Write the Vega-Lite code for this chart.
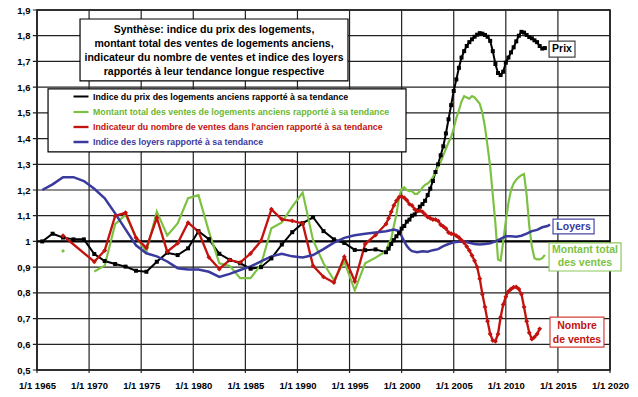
{
  "$schema": "https://vega.github.io/schema/vega-lite/v6.json",
  "width": 573,
  "height": 360,
  "autosize": {"type": "none"},
  "padding": {"left": 37, "top": 10, "right": 28, "bottom": 27},
  "background": "white",
  "config": {
    "font": "Liberation Sans",
    "view": {"stroke": "black", "strokeWidth": 1.5}
  },
  "datasets": {
    "series": [
      {"series": "Prix", "year": 1965.5, "v": 1.0},
      {"series": "Prix", "year": 1966.5, "v": 1.03},
      {"series": "Prix", "year": 1967.5, "v": 1.015},
      {"series": "Prix", "year": 1968.5, "v": 1.008},
      {"series": "Prix", "year": 1969.5, "v": 1.008},
      {"series": "Prix", "year": 1970.5, "v": 0.951},
      {"series": "Prix", "year": 1971.5, "v": 0.924},
      {"series": "Prix", "year": 1972.5, "v": 0.912},
      {"series": "Prix", "year": 1973.5, "v": 0.902},
      {"series": "Prix", "year": 1974.5, "v": 0.886},
      {"series": "Prix", "year": 1975.5, "v": 0.882},
      {"series": "Prix", "year": 1976.5, "v": 0.921},
      {"series": "Prix", "year": 1977.5, "v": 0.956},
      {"series": "Prix", "year": 1978.5, "v": 0.947},
      {"series": "Prix", "year": 1979.5, "v": 0.973},
      {"series": "Prix", "year": 1980.5, "v": 1.04},
      {"series": "Prix", "year": 1981.5, "v": 1.009},
      {"series": "Prix", "year": 1982.5, "v": 0.952},
      {"series": "Prix", "year": 1983.5, "v": 0.928},
      {"series": "Prix", "year": 1984.5, "v": 0.915},
      {"series": "Prix", "year": 1985.5, "v": 0.894},
      {"series": "Prix", "year": 1986.5, "v": 0.9},
      {"series": "Prix", "year": 1987.5, "v": 0.934},
      {"series": "Prix", "year": 1988.5, "v": 0.988},
      {"series": "Prix", "year": 1989.5, "v": 1.036},
      {"series": "Prix", "year": 1990.5, "v": 1.071},
      {"series": "Prix", "year": 1991.5, "v": 1.094},
      {"series": "Prix", "year": 1992.5, "v": 1.04},
      {"series": "Prix", "year": 1993.5, "v": 1.008},
      {"series": "Prix", "year": 1994.5, "v": 0.994},
      {"series": "Prix", "year": 1995.5, "v": 0.967},
      {"series": "Prix", "year": 1996.5, "v": 0.966},
      {"series": "Prix", "year": 1997.5, "v": 0.969},
      {"series": "Prix", "year": 1998.5, "v": 0.958},
      {"series": "Prix", "year": 1998.75, "v": 0.972},
      {"series": "Prix", "year": 1999.0, "v": 0.99},
      {"series": "Prix", "year": 1999.25, "v": 1.005},
      {"series": "Prix", "year": 1999.5, "v": 1.02},
      {"series": "Prix", "year": 1999.75, "v": 1.032},
      {"series": "Prix", "year": 2000.0, "v": 1.05},
      {"series": "Prix", "year": 2000.25, "v": 1.06},
      {"series": "Prix", "year": 2000.5, "v": 1.077},
      {"series": "Prix", "year": 2000.75, "v": 1.085},
      {"series": "Prix", "year": 2001.0, "v": 1.1},
      {"series": "Prix", "year": 2001.25, "v": 1.105},
      {"series": "Prix", "year": 2001.5, "v": 1.12},
      {"series": "Prix", "year": 2001.75, "v": 1.135},
      {"series": "Prix", "year": 2002.0, "v": 1.145},
      {"series": "Prix", "year": 2002.25, "v": 1.158},
      {"series": "Prix", "year": 2002.5, "v": 1.18},
      {"series": "Prix", "year": 2002.75, "v": 1.205},
      {"series": "Prix", "year": 2003.0, "v": 1.235},
      {"series": "Prix", "year": 2003.25, "v": 1.27},
      {"series": "Prix", "year": 2003.5, "v": 1.3},
      {"series": "Prix", "year": 2003.75, "v": 1.335},
      {"series": "Prix", "year": 2004.0, "v": 1.37},
      {"series": "Prix", "year": 2004.25, "v": 1.42},
      {"series": "Prix", "year": 2004.5, "v": 1.475},
      {"series": "Prix", "year": 2004.75, "v": 1.53},
      {"series": "Prix", "year": 2005.0, "v": 1.585},
      {"series": "Prix", "year": 2005.25, "v": 1.63},
      {"series": "Prix", "year": 2005.5, "v": 1.675},
      {"series": "Prix", "year": 2005.75, "v": 1.715},
      {"series": "Prix", "year": 2006.0, "v": 1.74},
      {"series": "Prix", "year": 2006.25, "v": 1.76},
      {"series": "Prix", "year": 2006.5, "v": 1.775},
      {"series": "Prix", "year": 2006.75, "v": 1.786},
      {"series": "Prix", "year": 2007.0, "v": 1.796},
      {"series": "Prix", "year": 2007.25, "v": 1.804},
      {"series": "Prix", "year": 2007.5, "v": 1.81},
      {"series": "Prix", "year": 2007.75, "v": 1.808},
      {"series": "Prix", "year": 2008.0, "v": 1.803},
      {"series": "Prix", "year": 2008.25, "v": 1.796},
      {"series": "Prix", "year": 2008.5, "v": 1.78},
      {"series": "Prix", "year": 2008.75, "v": 1.74},
      {"series": "Prix", "year": 2009.0, "v": 1.69},
      {"series": "Prix", "year": 2009.25, "v": 1.655},
      {"series": "Prix", "year": 2009.5, "v": 1.647},
      {"series": "Prix", "year": 2009.75, "v": 1.66},
      {"series": "Prix", "year": 2010.0, "v": 1.695},
      {"series": "Prix", "year": 2010.25, "v": 1.715},
      {"series": "Prix", "year": 2010.5, "v": 1.735},
      {"series": "Prix", "year": 2010.75, "v": 1.755},
      {"series": "Prix", "year": 2011.0, "v": 1.778},
      {"series": "Prix", "year": 2011.25, "v": 1.8},
      {"series": "Prix", "year": 2011.5, "v": 1.815},
      {"series": "Prix", "year": 2011.75, "v": 1.812},
      {"series": "Prix", "year": 2012.0, "v": 1.803},
      {"series": "Prix", "year": 2012.25, "v": 1.795},
      {"series": "Prix", "year": 2012.5, "v": 1.79},
      {"series": "Prix", "year": 2012.75, "v": 1.782},
      {"series": "Prix", "year": 2013.0, "v": 1.775},
      {"series": "Prix", "year": 2013.25, "v": 1.76},
      {"series": "Prix", "year": 2013.5, "v": 1.75},
      {"series": "Prix", "year": 2013.75, "v": 1.752},

      {"series": "Montant", "year": 1967.5, "v": 0.963},
      {"series": "Montant", "year": 1970.5, "v": 0.883},
      {"series": "Montant", "year": 1971.5, "v": 0.906},
      {"series": "Montant", "year": 1972.5, "v": 1.067},
      {"series": "Montant", "year": 1973.5, "v": 1.103},
      {"series": "Montant", "year": 1974.5, "v": 1.018},
      {"series": "Montant", "year": 1975.5, "v": 0.96},
      {"series": "Montant", "year": 1976.5, "v": 1.116},
      {"series": "Montant", "year": 1977.5, "v": 1.023},
      {"series": "Montant", "year": 1978.5, "v": 1.07},
      {"series": "Montant", "year": 1979.5, "v": 1.168},
      {"series": "Montant", "year": 1980.5, "v": 1.18},
      {"series": "Montant", "year": 1981.5, "v": 1.038},
      {"series": "Montant", "year": 1982.5, "v": 0.915},
      {"series": "Montant", "year": 1983.5, "v": 0.905},
      {"series": "Montant", "year": 1984.5, "v": 0.857},
      {"series": "Montant", "year": 1985.5, "v": 0.857},
      {"series": "Montant", "year": 1986.5, "v": 0.91},
      {"series": "Montant", "year": 1987.5, "v": 1.051},
      {"series": "Montant", "year": 1988.5, "v": 1.074},
      {"series": "Montant", "year": 1989.5, "v": 1.135},
      {"series": "Montant", "year": 1990.5, "v": 1.19},
      {"series": "Montant", "year": 1991.5, "v": 1.005},
      {"series": "Montant", "year": 1992.5, "v": 0.915},
      {"series": "Montant", "year": 1993.5, "v": 0.85},
      {"series": "Montant", "year": 1994.5, "v": 0.921},
      {"series": "Montant", "year": 1995.5, "v": 0.81},
      {"series": "Montant", "year": 1996.5, "v": 0.915},
      {"series": "Montant", "year": 1997.5, "v": 0.937},
      {"series": "Montant", "year": 1998.5, "v": 0.962},
      {"series": "Montant", "year": 1998.75, "v": 0.99},
      {"series": "Montant", "year": 1999.0, "v": 1.01},
      {"series": "Montant", "year": 1999.25, "v": 1.06},
      {"series": "Montant", "year": 1999.5, "v": 1.105},
      {"series": "Montant", "year": 1999.75, "v": 1.17},
      {"series": "Montant", "year": 2000.0, "v": 1.205},
      {"series": "Montant", "year": 2000.25, "v": 1.21},
      {"series": "Montant", "year": 2000.5, "v": 1.2},
      {"series": "Montant", "year": 2000.75, "v": 1.195},
      {"series": "Montant", "year": 2001.0, "v": 1.195},
      {"series": "Montant", "year": 2001.25, "v": 1.185},
      {"series": "Montant", "year": 2001.5, "v": 1.185},
      {"series": "Montant", "year": 2001.75, "v": 1.195},
      {"series": "Montant", "year": 2002.0, "v": 1.21},
      {"series": "Montant", "year": 2002.25, "v": 1.22},
      {"series": "Montant", "year": 2002.5, "v": 1.225},
      {"series": "Montant", "year": 2002.75, "v": 1.235},
      {"series": "Montant", "year": 2003.0, "v": 1.25},
      {"series": "Montant", "year": 2003.25, "v": 1.27},
      {"series": "Montant", "year": 2003.5, "v": 1.29},
      {"series": "Montant", "year": 2003.75, "v": 1.31},
      {"series": "Montant", "year": 2004.0, "v": 1.335},
      {"series": "Montant", "year": 2004.25, "v": 1.36},
      {"series": "Montant", "year": 2004.5, "v": 1.385},
      {"series": "Montant", "year": 2004.75, "v": 1.405},
      {"series": "Montant", "year": 2005.0, "v": 1.44},
      {"series": "Montant", "year": 2005.25, "v": 1.48},
      {"series": "Montant", "year": 2005.5, "v": 1.51},
      {"series": "Montant", "year": 2005.75, "v": 1.545},
      {"series": "Montant", "year": 2006.0, "v": 1.565},
      {"series": "Montant", "year": 2006.25, "v": 1.56},
      {"series": "Montant", "year": 2006.5, "v": 1.555},
      {"series": "Montant", "year": 2006.75, "v": 1.565},
      {"series": "Montant", "year": 2007.0, "v": 1.56},
      {"series": "Montant", "year": 2007.25, "v": 1.548},
      {"series": "Montant", "year": 2007.5, "v": 1.535},
      {"series": "Montant", "year": 2007.75, "v": 1.5},
      {"series": "Montant", "year": 2008.0, "v": 1.445},
      {"series": "Montant", "year": 2008.25, "v": 1.37},
      {"series": "Montant", "year": 2008.5, "v": 1.29},
      {"series": "Montant", "year": 2008.75, "v": 1.18},
      {"series": "Montant", "year": 2009.0, "v": 1.07},
      {"series": "Montant", "year": 2009.25, "v": 0.93},
      {"series": "Montant", "year": 2009.5, "v": 0.925},
      {"series": "Montant", "year": 2009.75, "v": 1.0},
      {"series": "Montant", "year": 2010.0, "v": 1.08},
      {"series": "Montant", "year": 2010.25, "v": 1.15},
      {"series": "Montant", "year": 2010.5, "v": 1.2},
      {"series": "Montant", "year": 2010.75, "v": 1.225},
      {"series": "Montant", "year": 2011.0, "v": 1.24},
      {"series": "Montant", "year": 2011.25, "v": 1.25},
      {"series": "Montant", "year": 2011.5, "v": 1.258},
      {"series": "Montant", "year": 2011.75, "v": 1.262},
      {"series": "Montant", "year": 2012.0, "v": 1.18},
      {"series": "Montant", "year": 2012.25, "v": 1.06},
      {"series": "Montant", "year": 2012.5, "v": 0.98},
      {"series": "Montant", "year": 2012.75, "v": 0.935},
      {"series": "Montant", "year": 2013.0, "v": 0.93},
      {"series": "Montant", "year": 2013.25, "v": 0.93},
      {"series": "Montant", "year": 2013.5, "v": 0.935},
      {"series": "Montant", "year": 2013.75, "v": 0.948},

      {"series": "Nombre", "year": 1967.5, "v": 1.022},
      {"series": "Nombre", "year": 1970.5, "v": 0.921},
      {"series": "Nombre", "year": 1971.5, "v": 0.965},
      {"series": "Nombre", "year": 1972.5, "v": 1.099},
      {"series": "Nombre", "year": 1973.5, "v": 1.112},
      {"series": "Nombre", "year": 1974.5, "v": 1.014},
      {"series": "Nombre", "year": 1975.5, "v": 0.975},
      {"series": "Nombre", "year": 1976.5, "v": 1.092},
      {"series": "Nombre", "year": 1977.5, "v": 0.96},
      {"series": "Nombre", "year": 1978.5, "v": 0.993},
      {"series": "Nombre", "year": 1979.5, "v": 1.073},
      {"series": "Nombre", "year": 1980.5, "v": 1.038},
      {"series": "Nombre", "year": 1981.5, "v": 0.938},
      {"series": "Nombre", "year": 1982.5, "v": 0.893},
      {"series": "Nombre", "year": 1983.5, "v": 0.928},
      {"series": "Nombre", "year": 1984.5, "v": 0.918},
      {"series": "Nombre", "year": 1985.5, "v": 0.953},
      {"series": "Nombre", "year": 1986.5, "v": 1.002},
      {"series": "Nombre", "year": 1987.5, "v": 1.125},
      {"series": "Nombre", "year": 1988.5, "v": 1.086},
      {"series": "Nombre", "year": 1989.5, "v": 1.08},
      {"series": "Nombre", "year": 1990.5, "v": 1.07},
      {"series": "Nombre", "year": 1991.5, "v": 0.905},
      {"series": "Nombre", "year": 1992.5, "v": 0.862},
      {"series": "Nombre", "year": 1993.5, "v": 0.84},
      {"series": "Nombre", "year": 1994.5, "v": 0.94},
      {"series": "Nombre", "year": 1995.5, "v": 0.845},
      {"series": "Nombre", "year": 1996.5, "v": 0.99},
      {"series": "Nombre", "year": 1997.5, "v": 1.025},
      {"series": "Nombre", "year": 1998.5, "v": 1.068},
      {"series": "Nombre", "year": 1998.75, "v": 1.09},
      {"series": "Nombre", "year": 1999.0, "v": 1.115},
      {"series": "Nombre", "year": 1999.25, "v": 1.14},
      {"series": "Nombre", "year": 1999.5, "v": 1.158},
      {"series": "Nombre", "year": 1999.75, "v": 1.172},
      {"series": "Nombre", "year": 2000.0, "v": 1.175},
      {"series": "Nombre", "year": 2000.25, "v": 1.17},
      {"series": "Nombre", "year": 2000.5, "v": 1.16},
      {"series": "Nombre", "year": 2000.75, "v": 1.145},
      {"series": "Nombre", "year": 2001.0, "v": 1.14},
      {"series": "Nombre", "year": 2001.25, "v": 1.125},
      {"series": "Nombre", "year": 2001.5, "v": 1.118},
      {"series": "Nombre", "year": 2001.75, "v": 1.12},
      {"series": "Nombre", "year": 2002.0, "v": 1.115},
      {"series": "Nombre", "year": 2002.25, "v": 1.105},
      {"series": "Nombre", "year": 2002.5, "v": 1.095},
      {"series": "Nombre", "year": 2002.75, "v": 1.09},
      {"series": "Nombre", "year": 2003.0, "v": 1.085},
      {"series": "Nombre", "year": 2003.25, "v": 1.085},
      {"series": "Nombre", "year": 2003.5, "v": 1.08},
      {"series": "Nombre", "year": 2003.75, "v": 1.065},
      {"series": "Nombre", "year": 2004.0, "v": 1.058},
      {"series": "Nombre", "year": 2004.25, "v": 1.05},
      {"series": "Nombre", "year": 2004.5, "v": 1.035},
      {"series": "Nombre", "year": 2004.75, "v": 1.03},
      {"series": "Nombre", "year": 2005.0, "v": 1.028},
      {"series": "Nombre", "year": 2005.25, "v": 1.022},
      {"series": "Nombre", "year": 2005.5, "v": 1.015},
      {"series": "Nombre", "year": 2005.75, "v": 1.005},
      {"series": "Nombre", "year": 2006.0, "v": 0.995},
      {"series": "Nombre", "year": 2006.25, "v": 0.98},
      {"series": "Nombre", "year": 2006.5, "v": 0.965},
      {"series": "Nombre", "year": 2006.75, "v": 0.945},
      {"series": "Nombre", "year": 2007.0, "v": 0.925},
      {"series": "Nombre", "year": 2007.25, "v": 0.9},
      {"series": "Nombre", "year": 2007.5, "v": 0.855},
      {"series": "Nombre", "year": 2007.75, "v": 0.795},
      {"series": "Nombre", "year": 2008.0, "v": 0.745},
      {"series": "Nombre", "year": 2008.25, "v": 0.69},
      {"series": "Nombre", "year": 2008.5, "v": 0.64},
      {"series": "Nombre", "year": 2008.75, "v": 0.615},
      {"series": "Nombre", "year": 2009.0, "v": 0.612},
      {"series": "Nombre", "year": 2009.25, "v": 0.64},
      {"series": "Nombre", "year": 2009.5, "v": 0.705},
      {"series": "Nombre", "year": 2009.75, "v": 0.755},
      {"series": "Nombre", "year": 2010.0, "v": 0.785},
      {"series": "Nombre", "year": 2010.25, "v": 0.805},
      {"series": "Nombre", "year": 2010.5, "v": 0.815},
      {"series": "Nombre", "year": 2010.75, "v": 0.822},
      {"series": "Nombre", "year": 2011.0, "v": 0.823},
      {"series": "Nombre", "year": 2011.25, "v": 0.815},
      {"series": "Nombre", "year": 2011.5, "v": 0.795},
      {"series": "Nombre", "year": 2011.75, "v": 0.745},
      {"series": "Nombre", "year": 2012.0, "v": 0.69},
      {"series": "Nombre", "year": 2012.25, "v": 0.645},
      {"series": "Nombre", "year": 2012.5, "v": 0.62},
      {"series": "Nombre", "year": 2012.75, "v": 0.628},
      {"series": "Nombre", "year": 2013.0, "v": 0.64},
      {"series": "Nombre", "year": 2013.25, "v": 0.66},

      {"series": "Loyers", "year": 1965.5, "v": 1.2},
      {"series": "Loyers", "year": 1966.5, "v": 1.222},
      {"series": "Loyers", "year": 1967.5, "v": 1.25},
      {"series": "Loyers", "year": 1968.5, "v": 1.25},
      {"series": "Loyers", "year": 1969.5, "v": 1.235},
      {"series": "Loyers", "year": 1970.5, "v": 1.205},
      {"series": "Loyers", "year": 1971.5, "v": 1.168},
      {"series": "Loyers", "year": 1972.5, "v": 1.109},
      {"series": "Loyers", "year": 1973.5, "v": 1.047},
      {"series": "Loyers", "year": 1974.5, "v": 0.985},
      {"series": "Loyers", "year": 1975.5, "v": 0.954},
      {"series": "Loyers", "year": 1976.5, "v": 0.942},
      {"series": "Loyers", "year": 1977.5, "v": 0.922},
      {"series": "Loyers", "year": 1978.5, "v": 0.896},
      {"series": "Loyers", "year": 1979.5, "v": 0.891},
      {"series": "Loyers", "year": 1980.5, "v": 0.891},
      {"series": "Loyers", "year": 1981.5, "v": 0.882},
      {"series": "Loyers", "year": 1982.5, "v": 0.862},
      {"series": "Loyers", "year": 1983.5, "v": 0.874},
      {"series": "Loyers", "year": 1984.5, "v": 0.889},
      {"series": "Loyers", "year": 1985.5, "v": 0.903},
      {"series": "Loyers", "year": 1986.5, "v": 0.922},
      {"series": "Loyers", "year": 1987.5, "v": 0.942},
      {"series": "Loyers", "year": 1988.5, "v": 0.952},
      {"series": "Loyers", "year": 1989.5, "v": 0.942},
      {"series": "Loyers", "year": 1990.5, "v": 0.938},
      {"series": "Loyers", "year": 1991.5, "v": 0.947},
      {"series": "Loyers", "year": 1992.5, "v": 0.97},
      {"series": "Loyers", "year": 1993.5, "v": 0.995},
      {"series": "Loyers", "year": 1994.5, "v": 1.014},
      {"series": "Loyers", "year": 1995.5, "v": 1.024},
      {"series": "Loyers", "year": 1996.5, "v": 1.03},
      {"series": "Loyers", "year": 1997.5, "v": 1.035},
      {"series": "Loyers", "year": 1998.5, "v": 1.04},
      {"series": "Loyers", "year": 1999.25, "v": 1.046},
      {"series": "Loyers", "year": 1999.75, "v": 1.04},
      {"series": "Loyers", "year": 2000.0, "v": 1.02},
      {"series": "Loyers", "year": 2000.25, "v": 1.0},
      {"series": "Loyers", "year": 2000.5, "v": 0.982},
      {"series": "Loyers", "year": 2000.75, "v": 0.97},
      {"series": "Loyers", "year": 2001.0, "v": 0.962},
      {"series": "Loyers", "year": 2001.5, "v": 0.958},
      {"series": "Loyers", "year": 2002.0, "v": 0.962},
      {"series": "Loyers", "year": 2002.5, "v": 0.96},
      {"series": "Loyers", "year": 2003.0, "v": 0.966},
      {"series": "Loyers", "year": 2003.5, "v": 0.97},
      {"series": "Loyers", "year": 2004.0, "v": 0.982},
      {"series": "Loyers", "year": 2004.5, "v": 0.99},
      {"series": "Loyers", "year": 2005.0, "v": 0.997},
      {"series": "Loyers", "year": 2005.5, "v": 0.999},
      {"series": "Loyers", "year": 2006.0, "v": 1.0},
      {"series": "Loyers", "year": 2006.5, "v": 0.995},
      {"series": "Loyers", "year": 2007.0, "v": 0.99},
      {"series": "Loyers", "year": 2007.5, "v": 0.988},
      {"series": "Loyers", "year": 2008.0, "v": 0.99},
      {"series": "Loyers", "year": 2008.5, "v": 0.993},
      {"series": "Loyers", "year": 2009.0, "v": 1.0},
      {"series": "Loyers", "year": 2009.5, "v": 1.01},
      {"series": "Loyers", "year": 2010.0, "v": 1.02},
      {"series": "Loyers", "year": 2010.5, "v": 1.02},
      {"series": "Loyers", "year": 2011.0, "v": 1.018},
      {"series": "Loyers", "year": 2011.5, "v": 1.022},
      {"series": "Loyers", "year": 2012.0, "v": 1.03},
      {"series": "Loyers", "year": 2012.5, "v": 1.04},
      {"series": "Loyers", "year": 2013.0, "v": 1.045},
      {"series": "Loyers", "year": 2013.5, "v": 1.055},
      {"series": "Loyers", "year": 2014.0, "v": 1.06},
      {"series": "Loyers", "year": 2014.25, "v": 1.066}
    ],
    "grille": [
      {"year": 1965, "year2": 1965, "v": 0.488, "v2": 1.9},
      {"year": 1970, "year2": 1970, "v": 0.488, "v2": 1.9},
      {"year": 1975, "year2": 1975, "v": 0.488, "v2": 1.9},
      {"year": 1980, "year2": 1980, "v": 0.488, "v2": 1.9},
      {"year": 1985, "year2": 1985, "v": 0.488, "v2": 1.9},
      {"year": 1990, "year2": 1990, "v": 0.488, "v2": 1.9},
      {"year": 1995, "year2": 1995, "v": 0.488, "v2": 1.9},
      {"year": 2000, "year2": 2000, "v": 0.488, "v2": 1.9},
      {"year": 2005, "year2": 2005, "v": 0.488, "v2": 1.9},
      {"year": 2010, "year2": 2010, "v": 0.488, "v2": 1.9},
      {"year": 2015, "year2": 2015, "v": 0.488, "v2": 1.9},
      {"year": 2020, "year2": 2020, "v": 0.488, "v2": 1.9},
      {"year": 1964.6, "year2": 2020, "v": 0.5, "v2": 0.5},
      {"year": 1964.6, "year2": 2020, "v": 0.6, "v2": 0.6},
      {"year": 1964.6, "year2": 2020, "v": 0.7, "v2": 0.7},
      {"year": 1964.6, "year2": 2020, "v": 0.8, "v2": 0.8},
      {"year": 1964.6, "year2": 2020, "v": 0.9, "v2": 0.9},
      {"year": 1964.6, "year2": 2020, "v": 1.0, "v2": 1.0},
      {"year": 1964.6, "year2": 2020, "v": 1.1, "v2": 1.1},
      {"year": 1964.6, "year2": 2020, "v": 1.2, "v2": 1.2},
      {"year": 1964.6, "year2": 2020, "v": 1.3, "v2": 1.3},
      {"year": 1964.6, "year2": 2020, "v": 1.4, "v2": 1.4},
      {"year": 1964.6, "year2": 2020, "v": 1.5, "v2": 1.5},
      {"year": 1964.6, "year2": 2020, "v": 1.6, "v2": 1.6},
      {"year": 1964.6, "year2": 2020, "v": 1.7, "v2": 1.7},
      {"year": 1964.6, "year2": 2020, "v": 1.8, "v2": 1.8},
      {"year": 1964.6, "year2": 2020, "v": 1.9, "v2": 1.9}
    ],
    "boxes": [
      {"series": "Cadre", "year": 1969.13, "year2": 1994.85, "v": 1.865, "v2": 1.624},
      {"series": "Cadre", "year": 1966.06, "year2": 2000.42, "v": 1.593, "v2": 1.348},
      {"series": "Prix", "year": 2014.15, "year2": 2016.64, "v": 1.779, "v2": 1.717},
      {"series": "Loyers", "year": 2014.53, "year2": 2018.47, "v": 1.087, "v2": 1.029},
      {"series": "Montant", "year": 2014.15, "year2": 2021.06, "v": 0.994, "v2": 0.885},
      {"series": "Nombre", "year": 2014.24, "year2": 2019.42, "v": 0.706, "v2": 0.589}
    ],
    "labels": [
      {"series": "Prix", "label": "Prix", "year": 2015.39, "v": 1.748},
      {"series": "Loyers", "label": "Loyers", "year": 2016.5, "v": 1.058},
      {"series": "Montant", "label": "Montant total\ndes ventes", "year": 2017.6, "v": 0.967},
      {"series": "Nombre", "label": "Nombre\nde ventes", "year": 2016.83, "v": 0.671}
    ],
    "titre": [
      {"year": 1981.99, "v": 1.822, "label": "Synthèse: indice du prix des logements,\nmontant total des ventes de logements anciens,\nindicateur du nombre de ventes et indice des loyers\nrapportés à leur tendance longue respective"}
    ],
    "reference": [
      {"year": 1965, "year2": 2020, "v": 1}
    ]
  },
  "encoding": {
    "x": {
      "field": "year",
      "type": "quantitative",
      "scale": {"domain": [1965, 2020], "nice": false, "zero": false},
      "axis": {
        "title": null,
        "values": [1965, 1970, 1975, 1980, 1985, 1990, 1995, 2000, 2005, 2010, 2015, 2020],
        "labelExpr": "'1/1 ' + datum.value",
        "grid": false,
        "domain": false,
        "ticks": false,
        "labelFont": "Liberation Sans",
        "labelFontWeight": "bold",
        "labelFontSize": 9.5,
        "labelColor": "#000000",
        "labelPadding": 10,
        "labelOverlap": false,
        "labelFlush": false
      }
    },
    "y": {
      "field": "v",
      "type": "quantitative",
      "scale": {"domain": [0.5, 1.9], "nice": false, "zero": false},
      "axis": {
        "title": null,
        "values": [0.5, 0.6, 0.7, 0.8, 0.9, 1.0, 1.1, 1.2, 1.3, 1.4, 1.5, 1.6, 1.7, 1.8, 1.9],
        "labelExpr": "abs(datum.value - 1) < 0.001 ? '1' : replace(format(datum.value, '.1f'), '.', ',')",
        "grid": false,
        "domain": false,
        "ticks": false,
        "labelFont": "Liberation Sans",
        "labelFontWeight": "bold",
        "labelFontSize": 9.5,
        "labelColor": "#000000",
        "labelPadding": 7,
        "labelOverlap": false,
        "labelFlush": false
      }
    }
  },
  "layer": [
    {
      "data": {"name": "grille"},
      "mark": {"type": "rule", "color": "#222222", "strokeWidth": 1.2, "clip": false},
      "encoding": {
        "x2": {"field": "year2"},
        "y2": {"field": "v2"}
      }
    },
    {
      "data": {"name": "reference"},
      "mark": {"type": "rule", "color": "#000000", "strokeWidth": 2.2},
      "encoding": {
        "x2": {"field": "year2"}
      }
    },
    {
      "data": {"name": "boxes"},
      "mark": {"type": "rect", "fill": "white", "strokeWidth": 1.2, "clip": false},
      "encoding": {
        "x2": {"field": "year2"},
        "y2": {"field": "v2"},
        "stroke": {
          "field": "series",
          "type": "nominal",
          "scale": {"domain": ["Cadre", "Prix", "Montant", "Nombre", "Loyers"], "range": ["#000000", "#444444", "#8cc85a", "#d4403a", "#4a4aa8"]},
          "legend": null
        }
      }
    },
    {
      "data": {"name": "titre"},
      "mark": {
        "type": "text",
        "font": "Liberation Sans",
        "fontWeight": "bold",
        "fontSize": 10.5,
        "lineBreak": "\n",
        "lineHeight": 13.9,
        "align": "center",
        "baseline": "middle",
        "color": "#000000"
      },
      "encoding": {
        "text": {"field": "label"}
      }
    },
    {
      "data": {"name": "series"},
      "transform": [{"filter": "!(datum.series == 'Montant' && datum.year < 1969)"}],
      "mark": {"type": "line", "interpolate": "linear"},
      "encoding": {
        "color": {
          "field": "series",
          "type": "nominal",
          "scale": {"domain": ["Prix", "Montant", "Nombre", "Loyers"], "range": ["#000000", "#7cc242", "#c3130f", "#3a3a9e"]},
          "legend": {
            "orient": "none",
            "legendX": 35,
            "legendY": 78,
            "title": null,
            "padding": 0,
            "symbolType": "stroke",
            "symbolSize": 225,
            "symbolStrokeWidth": 2,
            "labelOffset": 3,
            "rowPadding": 1,
            "labelFont": "Liberation Sans",
            "labelFontSize": 8.8,
            "labelFontWeight": "bold",
            "labelLimit": 500,
            "labelColor": {"expr": "datum.value == 'Prix' ? '#000000' : datum.value == 'Montant' ? '#6cb834' : datum.value == 'Nombre' ? '#c3130f' : '#3a3a9e'"},
            "labelExpr": "datum.value == 'Prix' ? 'Indice du prix des logements anciens rapporté à sa tendance' : datum.value == 'Montant' ? 'Montant total des ventes de logements anciens rapporté à sa tendance' : datum.value == 'Nombre' ? \"Indicateur du nombre de ventes dans l'ancien rapporté à sa tendance\" : 'Indice des loyers rapporté à sa tendance'"
          }
        },
        "strokeWidth": {
          "field": "series",
          "type": "nominal",
          "scale": {"domain": ["Prix", "Montant", "Nombre", "Loyers"], "range": [2, 2.5, 1, 2]},
          "legend": null
        },
        "order": {"field": "year", "type": "quantitative"}
      }
    },
    {
      "data": {"name": "series"},
      "transform": [{"filter": "datum.series == 'Prix' || datum.series == 'Nombre'"}],
      "mark": {"type": "point", "filled": true, "opacity": 1},
      "encoding": {
        "color": {"field": "series", "type": "nominal", "legend": null},
        "shape": {
          "field": "series",
          "type": "nominal",
          "scale": {"domain": ["Prix", "Nombre"], "range": ["square", "diamond"]},
          "legend": null
        },
        "size": {
          "field": "series",
          "type": "nominal",
          "scale": {"domain": ["Prix", "Nombre"], "range": [16, 24]},
          "legend": null
        }
      }
    },
    {
      "data": {"name": "series"},
      "transform": [{"filter": "datum.series == 'Montant' && datum.year < 1969"}],
      "mark": {"type": "point", "filled": true, "opacity": 1, "size": 10, "shape": "circle"},
      "encoding": {
        "color": {"field": "series", "type": "nominal", "legend": null}
      }
    },
    {
      "data": {"name": "labels"},
      "mark": {"type": "text", "font": "Liberation Sans", "fontWeight": "bold", "fontSize": 10.5, "lineBreak": "\n", "lineHeight": 13.5, "align": "center", "baseline": "middle", "clip": false},
      "encoding": {
        "text": {"field": "label"},
        "color": {"field": "series", "type": "nominal", "legend": null}
      }
    }
  ]
}
